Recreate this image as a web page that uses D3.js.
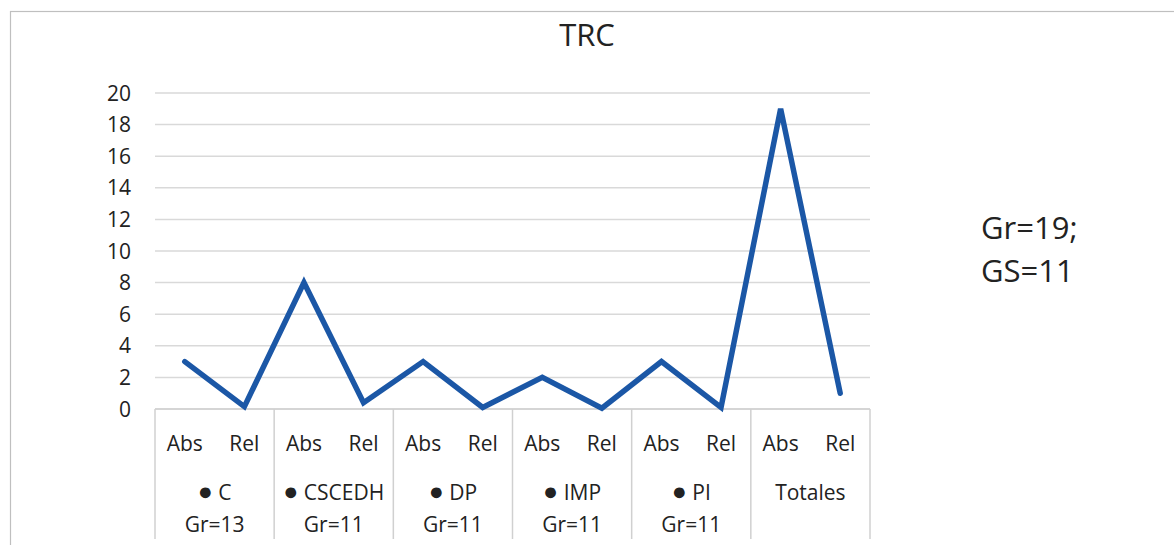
<!DOCTYPE html>
<html><head><meta charset="utf-8">
<script src="https://cdn.jsdelivr.net/npm/d3@7"></script>
<style>
html,body{margin:0;padding:0;background:#fff;}
svg{display:block;font-family:"Open Sans",sans-serif;}
</style></head>
<body>
<svg id="c" width="1174" height="545"></svg>
<script>
const categories = ["Abs","Rel","Abs","Rel","Abs","Rel","Abs","Rel","Abs","Rel","Abs","Rel"];
const groupLines = [["● C","Gr=13"],["● CSCEDH","Gr=11"],["● DP","Gr=11"],["● IMP","Gr=11"],["● PI","Gr=11"],["Totales"]];
const values = [3, 0.15, 8, 0.4, 3, 0.1, 2, 0.05, 3, 0.1, 19, 1];
const yTicks = [0,2,4,6,8,10,12,14,16,18,20];
const title = "TRC";
const note = ["Gr=19;","GS=11"];

const svg = d3.select("#c");
const L = 155, R = 870, T = 93, B = 409;
const txt = "#222";

svg.append("rect").attr("x",10.5).attr("y",11.5).attr("width",1300).attr("height",700)
  .attr("fill","none").attr("stroke","#bfbfbf").attr("stroke-width",1.2);

const x = d3.scaleBand().domain(d3.range(categories.length)).range([L,R]);
const xg = d3.scaleBand().domain(d3.range(groupLines.length)).range([L,R]);
const y = d3.scaleLinear().domain([0,20]).range([B,T]);

// gridlines
svg.append("g").selectAll("line").data(yTicks).join("line")
  .attr("x1",L).attr("x2",R).attr("y1",d=>y(d)).attr("y2",d=>y(d))
  .attr("stroke","#d9d9d9").attr("stroke-width",1.5);

// y tick labels
svg.append("g").selectAll("text").data(yTicks).join("text")
  .attr("x",131).attr("y",d=>y(d)).attr("dy","0.36em").attr("text-anchor","end")
  .attr("font-size",21).attr("fill",txt).text(d=>d);

// x axis line + group separators
svg.append("line").attr("x1",L).attr("x2",R).attr("y1",B).attr("y2",B)
  .attr("stroke","#d0d0d0").attr("stroke-width",1.5);
const seps = d3.range(groupLines.length+1).map(i => i<groupLines.length ? xg(i) : xg(i-1)+xg.bandwidth());
svg.append("g").selectAll("line").data(seps).join("line")
  .attr("x1",d=>d).attr("x2",d=>d).attr("y1",B).attr("y2",539)
  .attr("stroke","#d0d0d0").attr("stroke-width",1.5);

// category labels
svg.append("g").selectAll("text").data(categories).join("text")
  .attr("x",(d,i)=>x(i)+x.bandwidth()/2).attr("y",443).attr("dy","0.36em")
  .attr("text-anchor","middle").attr("font-size",21).attr("fill",txt).text(d=>d);

// group labels (baseline positioned directly)
const gl = svg.append("g");
groupLines.forEach((lines,gi)=>{
  lines.forEach((t,li)=>{
    const el = gl.append("text").attr("x",xg(gi)+xg.bandwidth()/2).attr("y",500+li*32)
      .attr("text-anchor","middle").attr("font-size",21).attr("fill",txt);
    if (t.startsWith("●")) {
      el.append("tspan").attr("font-size",25).text("●");
      el.append("tspan").text(t.slice(1));
    } else el.text(t);
  });
});

// line
const line = d3.line().x((d,i)=>x(i)+x.bandwidth()/2).y(d=>y(d));
svg.append("path").datum(values).attr("d",line).attr("fill","none")
  .attr("stroke","#1b57a6").attr("stroke-width",5.5).attr("stroke-linejoin","miter").attr("stroke-linecap","round");

// title
svg.append("text").attr("x",587).attr("y",35).attr("dy","0.36em").attr("text-anchor","middle")
  .attr("font-size",31).attr("fill",txt).text(title);

// note
note.forEach((t,i)=>{
  svg.append("text").attr("x",981).attr("y",228+i*43).attr("dy","0.36em")
    .attr("font-size",31).attr("fill",txt).text(t);
});
</script>
</body></html>
